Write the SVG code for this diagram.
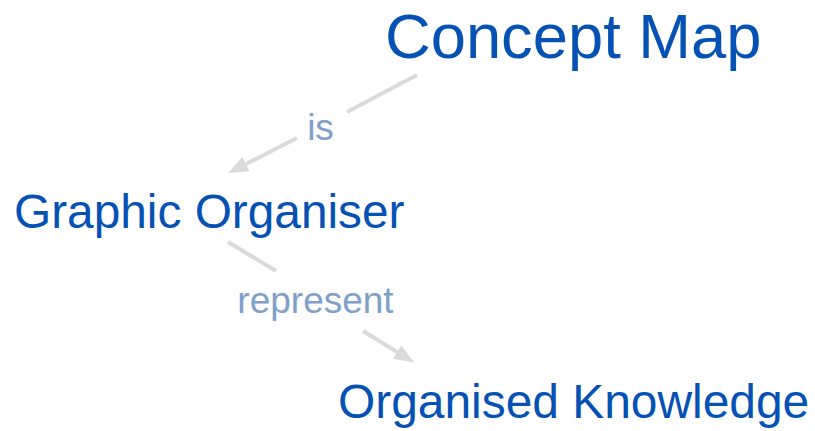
<svg xmlns="http://www.w3.org/2000/svg" width="815" height="431" viewBox="0 0 815 431">
<style>
.node{font-family:"Liberation Sans",Arial,sans-serif;fill:#0652b4;}
.lbl{font-family:"Liberation Sans",Arial,sans-serif;fill:#7ea0c9;font-size:37px;}
.edge{stroke:#dadada;stroke-width:4;fill:none;}
</style>
<defs>
<marker id="arr" markerUnits="userSpaceOnUse" markerWidth="20" markerHeight="16" viewBox="0 0 20 16" refX="0" refY="8" orient="auto">
<path d="M0,0 L20,8 L0,16 z" fill="#dadada"/>
</marker>
</defs>
<rect width="815" height="431" fill="#ffffff"/>
<g id="connectors">
<g id="e1">
<line class="edge" x1="417" y1="75" x2="347" y2="112"/>
<line class="edge" x1="297" y1="138" x2="246" y2="164" marker-end="url(#arr)"/>
<text class="lbl" x="320.5" y="140" text-anchor="middle">is</text>
</g>
<g id="e2">
<line class="edge" x1="228" y1="242" x2="276" y2="271"/>
<line class="edge" x1="363" y1="331" x2="397" y2="352" marker-end="url(#arr)"/>
<text class="lbl" x="315.5" y="313" text-anchor="middle">represent</text>
</g>
</g>
<g id="n1"><text class="node" x="385" y="57.5" font-size="63.3">Concept Map</text></g>
<g id="n2"><text class="node" x="14" y="228" font-size="47.8">Graphic Organiser</text></g>
<g id="n3"><text class="node" x="338" y="418" font-size="47.9">Organised Knowledge</text></g>
</svg>
